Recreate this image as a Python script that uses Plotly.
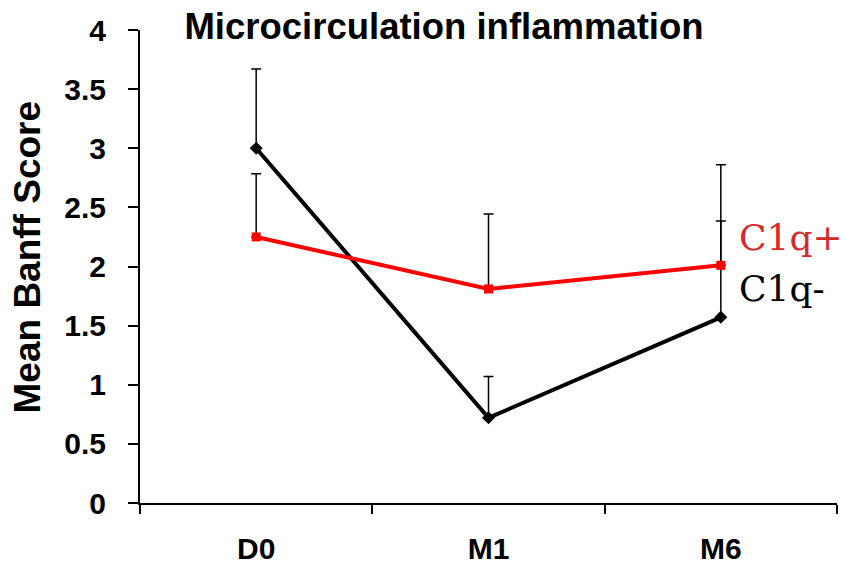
import plotly.graph_objects as go

categories = ["D0", "M1", "M6"]
c1q_neg = [3.0, 0.72, 1.57]
c1q_neg_err = [0.67, 0.35, 1.29]
c1q_pos = [2.25, 1.81, 2.01]
c1q_pos_err = [0.535, 0.635, 0.375]
y_ticks = [0, 0.5, 1, 1.5, 2, 2.5, 3, 3.5, 4]
y_tick_text = ["0", "0.5", "1", "1.5", "2", "2.5", "3", "3.5", "4"]

fig = go.Figure()
fig.add_trace(go.Scatter(
    x=categories, y=c1q_neg, mode="lines+markers", name="C1q-",
    line=dict(color="black", width=4),
    marker=dict(symbol="diamond", size=10, color="black"),
    error_y=dict(type="data", array=c1q_neg_err, arrayminus=[0, 0, 0], symmetric=False,
                 color="black", thickness=1.5, width=5),
))
fig.add_trace(go.Scatter(
    x=categories, y=c1q_pos, mode="lines+markers", name="C1q+",
    line=dict(color="#ff0000", width=4),
    marker=dict(symbol="square", size=9, color="#ff0000"),
    error_y=dict(type="data", array=c1q_pos_err, arrayminus=[0, 0, 0], symmetric=False,
                 color="black", thickness=1.5, width=5),
))

fig.add_annotation(x=2, y=c1q_pos[2], xref="x", yref="y", text="C1q+", showarrow=False,
                   xanchor="left", yanchor="middle", xshift=16, yshift=28,
                   font=dict(family="DejaVu Serif", size=36, color="#d42a2a"))
fig.add_annotation(x=2, y=c1q_neg[2], xref="x", yref="y", text="C1q-", showarrow=False,
                   xanchor="left", yanchor="middle", xshift=16, yshift=29,
                   font=dict(family="DejaVu Serif", size=36, color="black"))

# y-axis title as rotated annotation
fig.add_annotation(x=(27.5 - 140) / 697, y=(503 - 257.5) / 472, xref="paper", yref="paper",
                   text="<b>Mean Banff Score</b>", textangle=-90, showarrow=False,
                   xanchor="center", yanchor="middle",
                   font=dict(family="Liberation Sans", size=37, color="black"))

fig.update_layout(
    width=846, height=567,
    margin=dict(l=140, r=9, t=30, b=64),
    paper_bgcolor="white", plot_bgcolor="white",
    showlegend=False,
    title=dict(text="<b>Microcirculation inflammation</b>", x=444/846, xref="container",
               xanchor="center", y=1 - 26/567, yref="container", yanchor="middle",
               font=dict(family="Liberation Sans", size=36.5, color="black")),
    font=dict(family="Liberation Sans", color="black"),
)
fig.update_xaxes(
    type="category", range=[-0.5, 2.5], showline=True, linecolor="black", linewidth=2,
    ticks="outside", tickson="boundaries", ticklen=9, tickwidth=1.5, tickcolor="black",
    showgrid=False, zeroline=False, ticklabelstandoff=18, automargin=False,
    tickfont=dict(family="Liberation Sans", size=30, color="black"),
    tickprefix="<b>", ticksuffix="</b>",
)
fig.update_yaxes(
    range=[0, 4], tickvals=y_ticks, ticktext=[f"<b>{t}</b>" for t in y_tick_text],
    showline=True, linecolor="black", linewidth=2,
    ticks="outside", ticklen=10, tickwidth=1.5, tickcolor="black",
    showgrid=False, zeroline=False, ticklabelstandoff=16, automargin=False,
    tickfont=dict(family="Liberation Sans", size=30, color="black"),
)

fig.write_html("out.html")
